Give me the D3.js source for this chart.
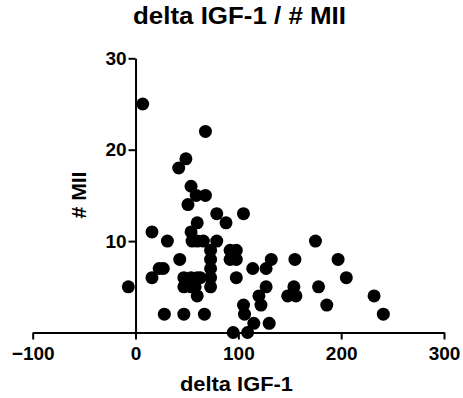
<!DOCTYPE html>
<html>
<head>
<meta charset="utf-8">
<script src="https://cdn.jsdelivr.net/npm/d3@7"></script>
<style>
  body { margin: 0; background: #fff; }
  text { font-family: "Liberation Sans", Arial, sans-serif; font-weight: bold; fill: #000; }
</style>
</head>
<body>
<div id="chart"></div>
<script>
// delta IGF-1 values
var deltaIGF = [7, 68, 49, 42, 54, 59, 68, 51, 79, 105, 60, 88, 16, 54,
  31, 55, 60, 66, 79, 175, 73, 92, 98,
  43, 73, 92, 98, 132, 155, 197,
  23, 27, 73, 114, 127,
  16, 47, 54, 60, 63, 73, 98, 205,
  -7, 47, 54, 58, 73, 127, 154, 178,
  60, 120, 148, 156, 232,
  105, 122, 186,
  28, 47, 67, 106, 241,
  115, 130,
  95, 109];
// # MII values
var mii = [25, 22, 19, 18, 16, 15, 15, 14, 13, 13, 12, 12, 11, 11,
  10, 10, 10, 10, 10, 10, 9, 9, 9,
  8, 8, 8, 8, 8, 8, 8,
  7, 7, 7, 7, 7,
  6, 6, 6, 6, 6, 6, 6, 6,
  5, 5, 5, 5, 5, 5, 5, 5,
  4, 4, 4, 4, 4,
  3, 3, 3,
  2, 2, 2, 2, 2,
  1, 1,
  0, 0];

var xTicks = [-100, 0, 100, 200, 300];
var yTicks = [10, 20, 30];

var svgWidth = 463;
var svgHeight = 398;

var svg = d3.select("#chart")
  .append("svg")
  .attr("width", svgWidth)
  .attr("height", svgHeight);

var xScale = d3.scaleLinear().domain([-100, 300]).range([32.7, 444]);
var yScale = d3.scaleLinear().domain([0, 30]).range([332.5, 58.3]);

// x axis
var xAxis = svg.append("g")
  .attr("transform", `translate(0, ${yScale(0)})`)
  .call(d3.axisBottom(xScale).tickValues(xTicks).tickSize(7).tickSizeOuter(0).tickPadding(7));

// y axis sits at x = 0
var yAxis = svg.append("g")
  .attr("transform", `translate(${xScale(0)}, 0)`)
  .call(d3.axisLeft(yScale).tickValues(yTicks).tickSize(7).tickSizeOuter(0).tickPadding(2));

svg.selectAll(".domain, .tick line")
  .attr("stroke", "#000")
  .attr("stroke-width", 2);
svg.selectAll(".tick text")
  .attr("font-size", "19px")
  .style("font-family", "'Liberation Sans', Arial, sans-serif")
  .style("font-weight", "bold")
  .attr("fill", "#000");

// points
svg.append("g")
  .selectAll("circle")
  .data(deltaIGF)
  .enter()
  .append("circle")
  .attr("cx", d => xScale(d))
  .attr("cy", (d, i) => yScale(mii[i]))
  .attr("r", 6.5)
  .attr("fill", "#000");

// title
svg.append("text")
  .attr("x", 239.5)
  .attr("y", 24)
  .attr("text-anchor", "middle")
  .attr("font-size", "23px")
  .attr("textLength", 213)
  .attr("lengthAdjust", "spacingAndGlyphs")
  .text("delta IGF-1 / # MII");

// x label
svg.append("text")
  .attr("x", 236.5)
  .attr("y", 391)
  .attr("text-anchor", "middle")
  .attr("font-size", "20px")
  .attr("textLength", 113)
  .attr("lengthAdjust", "spacingAndGlyphs")
  .text("delta IGF-1");

// y label
svg.append("text")
  .attr("transform", "translate(86, 195) rotate(-90)")
  .attr("text-anchor", "middle")
  .attr("font-size", "19.5px")
  .attr("textLength", 47)
  .attr("lengthAdjust", "spacingAndGlyphs")
  .text("# MII");
</script>
</body>
</html>
